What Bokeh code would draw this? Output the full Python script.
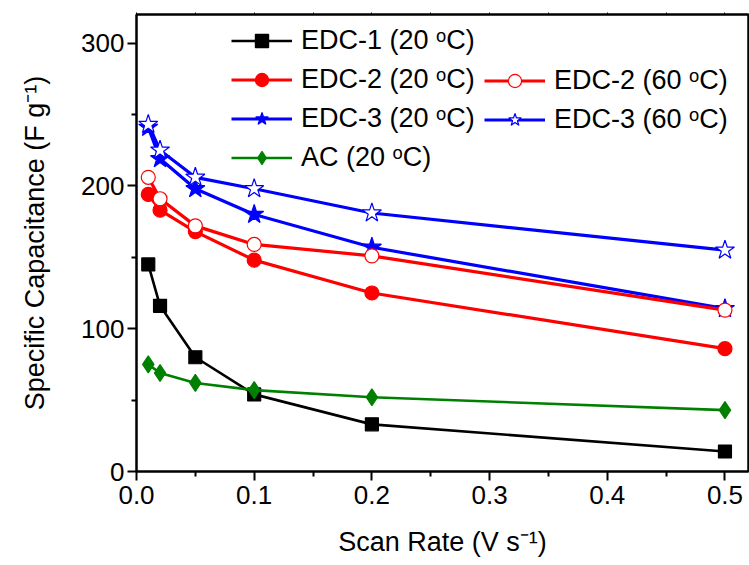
from bokeh.plotting import figure
from bokeh.models import (Range1d, FixedTicker, NumeralTickFormatter, Legend, LegendItem,
                          LinearAxis)
from bokeh.embed import file_html
from bokeh.resources import INLINE

# ---- data ----
scan_rate = [0.01, 0.02, 0.05, 0.1, 0.2, 0.5]
edc1_20 = [145, 116, 80, 54, 33, 14]
edc2_20 = [194, 183, 168, 148, 125, 86]
edc2_60 = [206, 191, 172, 159, 151, 113]
edc3_20 = [241, 219, 198, 180, 157, 114]
edc3_60 = [243, 225, 206, 198, 181, 155]
ac_20 = [75, 69, 62, 57, 52, 43]

x_ticks = [0.0, 0.1, 0.2, 0.3, 0.4, 0.5]
x_minor = [0.05, 0.15, 0.25, 0.35, 0.45]
y_ticks = [0, 100, 200, 300]
y_minor = [50, 150, 250]

FONT = "Liberation Sans"

p = figure(width=749, height=565, frame_width=612, frame_height=457,
           min_border_left=136, min_border_right=1, min_border_top=14, min_border_bottom=94,
           x_range=Range1d(0, 0.52), y_range=Range1d(0, 320),
           output_backend="svg", toolbar_location=None)
p.grid.visible = False
p.outline_line_color = "black"
p.outline_line_width = 2
p.background_fill_color = "white"
p.border_fill_color = "white"

for ax in p.xaxis:
    ax.ticker = FixedTicker(ticks=x_ticks, minor_ticks=x_minor)
    ax.formatter = NumeralTickFormatter(format="0.0")
    ax.axis_label = "Scan Rate (V s\u207b\u00b9)"
for ax in p.yaxis:
    ax.ticker = FixedTicker(ticks=y_ticks, minor_ticks=y_minor)
    ax.axis_label = "Specific Capacitance (F g\u207b\u00b9)"

for ax in list(p.xaxis) + list(p.yaxis):
    ax.axis_line_width = 2
    ax.major_tick_line_width = 2
    ax.minor_tick_line_width = 2
    ax.major_tick_in = 0
    ax.major_tick_out = 9
    ax.minor_tick_in = 0
    ax.minor_tick_out = 5
    ax.major_label_text_font = FONT
    ax.major_label_text_font_size = "26px"
    ax.major_label_text_color = "black"
    ax.axis_label_text_font = FONT
    ax.axis_label_text_font_size = "27px"
    ax.axis_label_text_font_style = "normal"
    ax.axis_label_text_color = "black"
p.xaxis.major_label_standoff = 5
p.xaxis.axis_label_standoff = 20
p.yaxis.major_label_standoff = 3
p.yaxis.axis_label_standoff = 28

# top and right frame ticks
top = LinearAxis(ticker=FixedTicker(ticks=x_ticks, minor_ticks=x_minor),
                 major_label_text_font_size="0px", axis_line_width=2,
                 major_tick_in=0, major_tick_out=2, minor_tick_in=0, minor_tick_out=2,
                 major_label_standoff=0)
p.add_layout(top, "above")
right = LinearAxis(ticker=FixedTicker(ticks=y_ticks, minor_ticks=y_minor),
                   major_label_text_font_size="0px", axis_line_width=2,
                   major_tick_in=0, major_tick_out=0, minor_tick_in=0, minor_tick_out=0,
                   major_label_standoff=0)
p.add_layout(right, "right")


def series(y, color, marker, size, fill, lw):
    l = p.line(scan_rate, y, line_color=color, line_width=lw)
    s = p.scatter(scan_rate, y, marker=marker, size=size, line_color=color,
                  fill_color=fill, line_width=1.2)
    return [l, s]


r_e3_20 = series(edc3_20, "#0000FF", "star", 20, "#0000FF", 3.2)
r_e3_60 = series(edc3_60, "#0000FF", "star", 20, "white", 3.2)
r_e2_20 = series(edc2_20, "#FF0000", "circle", 14, "#FF0000", 3.2)
r_e2_60 = series(edc2_60, "#FF0000", "circle", 14, "white", 3.2)
r_e1_20 = series(edc1_20, "black", "square", 13, "black", 2.6)
r_ac_20 = series(ac_20, "#008000", "diamond", 17, "#008000", 2.6)

deg = "\u1d52C"
common = dict(glyph_width=61, glyph_height=33, label_height=20, spacing=6,
              label_standoff=9, padding=0, margin=0, border_line_color=None,
              background_fill_alpha=0, label_text_font=FONT,
              label_text_font_size="27px", label_text_color="black")
leg1 = Legend(items=[LegendItem(label="EDC-1 (20 " + deg + ")", renderers=r_e1_20),
                     LegendItem(label="EDC-2 (20 " + deg + ")", renderers=r_e2_20),
                     LegendItem(label="EDC-3 (20 " + deg + ")", renderers=r_e3_20),
                     LegendItem(label="AC (20 " + deg + ")", renderers=r_ac_20)],
              location=(95, 297), **common)
leg2 = Legend(items=[LegendItem(label="EDC-2 (60 " + deg + ")", renderers=r_e2_60),
                     LegendItem(label="EDC-3 (60 " + deg + ")", renderers=r_e3_60)],
              location=(348, 335), **common)
p.add_layout(leg1)
p.add_layout(leg2)

open("out.html", "w").write(file_html(p, INLINE))
